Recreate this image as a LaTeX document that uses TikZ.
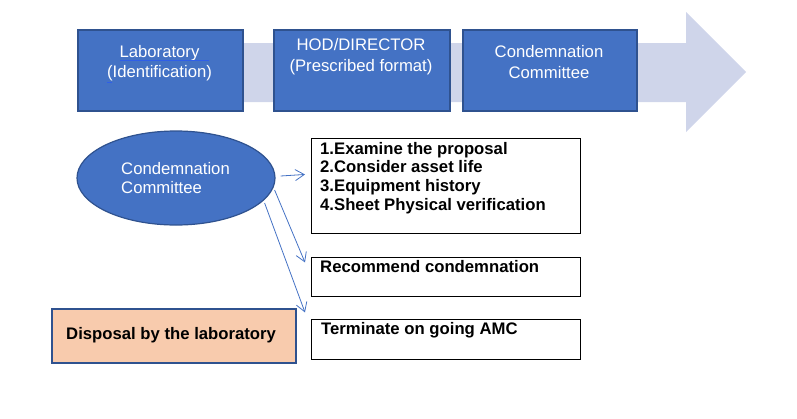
\documentclass[tikz,border=0pt]{standalone}
\usepackage{fontspec}
\setmainfont{Liberation Sans}
\usetikzlibrary{arrows.meta,shapes.geometric}
\definecolor{boxblue}{HTML}{4472C4}
\definecolor{boxedge}{HTML}{2F528F}
\definecolor{band}{HTML}{CFD5EA}
\definecolor{peach}{HTML}{F8CBAD}
\definecolor{spell}{HTML}{2F5FE8}
\begin{document}
\begin{tikzpicture}[x=1pt,y=-1pt,
  bluebox/.style={draw=boxedge, line width=1.8pt, fill=boxblue, anchor=north west, minimum height=81pt},
  whitetxt/.style={text=white, font=\fontsize{16.7}{20.5}\selectfont, align=center, inner sep=0pt},
  listbox/.style={draw=black, line width=0.9pt, fill=white, anchor=north west, minimum width=269pt},
  boldtxt/.style={font=\bfseries\fontsize{16.7}{18.7}\selectfont, align=left, anchor=west, inner sep=0pt},
  link/.style={draw=boxblue, line width=0.8pt, -{Straight Barb[length=9pt,width=11pt]}}]
\useasboundingbox (0,0) rectangle (797,418);
% big process arrow
\fill[band] (242,43) -- (686,43) -- (686,12) -- (746,72) -- (686,132) -- (686,102) -- (242,102) -- cycle;
% top boxes
\node[bluebox, minimum width=165pt] (b1) at (77,29) {};
\node[bluebox, minimum width=176pt] (b2) at (273,29) {};
\node[bluebox, minimum width=174pt] (b3) at (462,29) {};
\node[whitetxt] (t1) at (159.5,63) {Laboratory\\(Identification)};
\draw[spell, line width=0.9pt] (120,60) -- (209,60);
\draw[spell, line width=0.9pt] (107,82.5) -- (112,82.5);
\node[whitetxt] (t2) at (361,56.5) {HOD/DIRECTOR\\(Prescribed format)};
\node[whitetxt] (t3) at (549,62) {Condemnation\\Committee};
% ellipse
\node[draw=boxedge, line width=1.2pt, fill=boxblue, ellipse, minimum width=198pt, minimum height=94pt] (cc) at (176,178) {};
\node[whitetxt, font=\fontsize{16.7}{19}\selectfont, align=left, anchor=west] (cct) at (121,178.5) {Condemnation\\Committee};
% right boxes
\node[listbox, minimum height=95pt] (lb) at (311,138) {};
\node[boldtxt] (lbt) at (320,178) {1.Examine the proposal\\2.Consider asset life\\3.Equipment history\\4.Sheet Physical verification};
\node[listbox, minimum height=39pt] (rb) at (311,257) {};
\node[boldtxt] (rbt) at (320,267) {Recommend condemnation};
\node[listbox, minimum height=40pt] (tb) at (311,319) {};
\node[boldtxt] (tbt) at (321,330) {Terminate on going AMC};
% disposal
\node[draw=boxedge, line width=1.8pt, fill=peach, anchor=north west, minimum width=244pt, minimum height=54pt] (db) at (51,308) {};
\node[boldtxt] (dbt) at (66,335) {Disposal by the laboratory};
% connectors
\draw[link] ([shift={(5,-2)}]cc.east) -- ([shift={(-6,-11.5)}]lb.west);
\draw[link] ([shift={(-1,12)}]cc.east) -- ([shift={(-6,-14.5)}]rb.west);
\draw[link] ([shift={(-11,25)}]cc.east) -- ([shift={(-6,-27)}]tb.west);
\end{tikzpicture}
\end{document}
